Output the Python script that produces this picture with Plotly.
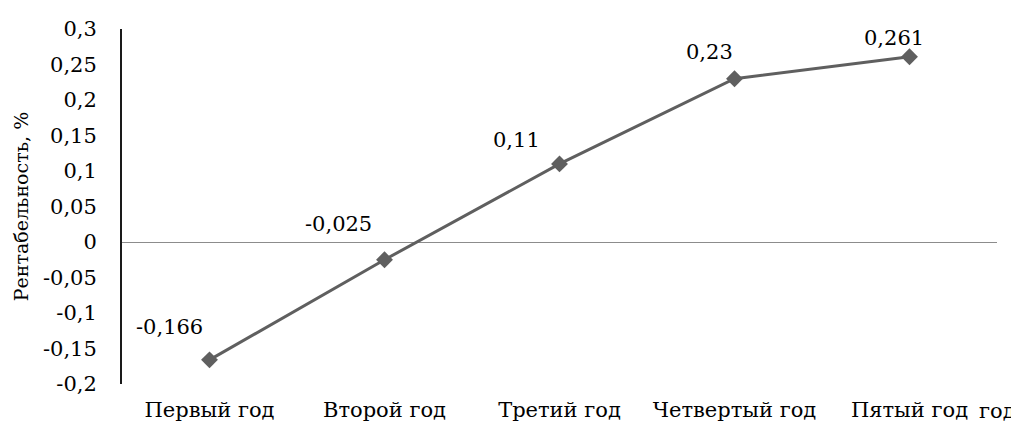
import plotly.graph_objects as go

categories = ["Первый год", "Второй год", "Третий год", "Четвертый год", "Пятый год"]
values = [-0.166, -0.025, 0.11, 0.23, 0.261]
value_labels = ["-0,166", "-0,025", "0,11", "0,23", "0,261"]
y_ticks = [-0.2, -0.15, -0.1, -0.05, 0, 0.05, 0.1, 0.15, 0.2, 0.25, 0.3]
y_tick_labels = ["-0,2", "-0,15", "-0,1", "-0,05", "0", "0,05", "0,1", "0,15", "0,2", "0,25", "0,3"]

# label offsets (style, px)
label_dx = [-40, -46, -43, -25, -16]
label_dy = [33, 36, 24, 27, 19]

FONT = "DejaVu Serif"
FS = 21
LINE_COLOR = "#5f5f5f"

fig = go.Figure()
fig.add_trace(go.Scatter(
    x=categories, y=values, mode="lines+markers",
    line=dict(color=LINE_COLOR, width=3),
    marker=dict(symbol="diamond", size=13, color=LINE_COLOR),
    hoverinfo="skip", showlegend=False,
))

for c, v, t, dx, dy in zip(categories, values, value_labels, label_dx, label_dy):
    fig.add_annotation(x=c, y=v, text=t, showarrow=False,
                       xanchor="center", yanchor="middle",
                       xshift=dx, yshift=dy,
                       font=dict(family=FONT, size=FS, color="#000"))

fig.add_annotation(xref="paper", yref="paper", x=1, y=0, text="год",
                   showarrow=False, xanchor="center", yanchor="top",
                   yshift=-13, font=dict(family=FONT, size=FS, color="#000"))

# page body has an 8px default margin, so the figure is sized to fit the window
fig.update_layout(
    width=1011, height=422,
    margin=dict(l=114, r=22, t=21, b=46),
    paper_bgcolor="white", plot_bgcolor="white",
    font=dict(family=FONT, size=FS, color="#000"),
    xaxis=dict(showline=False, showgrid=False, zeroline=False, ticks="",
               tickfont=dict(family=FONT, size=FS), ticklabelstandoff=11,
               range=[-0.5, 4.5], automargin=False),
    yaxis=dict(range=[-0.2, 0.3], tickvals=y_ticks, ticktext=y_tick_labels,
               showgrid=False, showline=True, linecolor="#1a1a1a", linewidth=2,
               zeroline=True, zerolinecolor="#8c8c8c", zerolinewidth=1,
               ticks="", tickfont=dict(family=FONT, size=FS), ticklabelstandoff=19,
               automargin=False,
               title=dict(text="Рентабельность, %", font=dict(family=FONT, size=19), standoff=9)),
)

fig.write_html("out.html")
